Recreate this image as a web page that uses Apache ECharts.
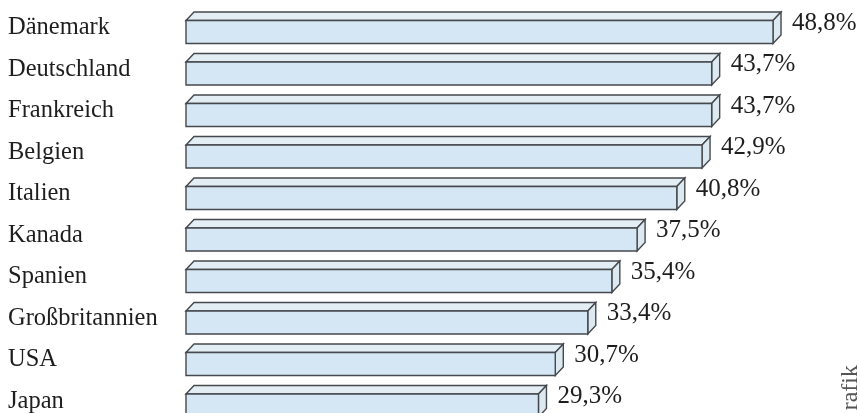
<!DOCTYPE html>
<html>
<head>
<meta charset="utf-8">
<script src="https://cdn.jsdelivr.net/npm/echarts@6/dist/echarts.min.js"></script>
<style>
html,body{margin:0;padding:0;background:#fff;}
#chart{width:860px;height:413px;}
</style>
</head>
<body>
<div id="chart"></div>
<script>
const countries = ['Dänemark','Deutschland','Frankreich','Belgien','Italien','Kanada','Spanien','Großbritannien','USA','Japan'];
const values = [48.8, 43.7, 43.7, 42.9, 40.8, 37.5, 35.4, 33.4, 30.7, 29.3];

const fmt = v => v.toFixed(1).replace('.', ',') + '%';
const FONT = '"Liberation Serif", "DejaVu Serif", serif';
const STROKE = '#45484c';

const chart = echarts.init(document.getElementById('chart'), null, {renderer: 'canvas'});

function renderItem(params, api) {
  const i = api.value(1);
  const v = api.value(0);
  const p0 = api.coord([0, i]);
  const p1 = api.coord([v, i]);
  const c = p0[1];
  const x0 = p0[0], x1 = p1[0];
  const dx = 8, dy = 8.5;
  const ft = c - 7.5, fb = c + 15.5;
  return {
    type: 'group',
    children: [
      {
        type: 'polygon',
        shape: {points: [[x0, ft], [x0 + dx, ft - dy], [x1 + dx, ft - dy], [x1, ft]]},
        style: {fill: '#e3edf4', stroke: STROKE, lineWidth: 1.4}
      },
      {
        type: 'polygon',
        shape: {points: [[x1, ft], [x1 + dx, ft - dy], [x1 + dx, fb - dy], [x1, fb]]},
        style: {fill: '#dde9f1', stroke: STROKE, lineWidth: 1.4}
      },
      {
        type: 'rect',
        shape: {x: x0, y: ft, width: x1 - x0, height: fb - ft},
        style: {fill: '#d5e7f4', stroke: STROKE, lineWidth: 1.4}
      },
      {
        type: 'text',
        x: x1 + dx + 11,
        y: c - 5,
        style: {
          text: fmt(v),
          fill: '#1e1e1e',
          font: '25px ' + FONT,
          textAlign: 'left',
          textVerticalAlign: 'middle',
          verticalAlign: 'middle'
        }
      }
    ]
  };
}

const option = {
  backgroundColor: '#ffffff',
  animation: false,
  grid: {left: 186, top: 7.25, bottom: -9.25, right: 12.4, outerBoundsMode: 'none', containLabel: false},
  xAxis: {
    type: 'value', min: 0, max: 55,
    show: false
  },
  yAxis: {
    type: 'category',
    data: countries,
    inverse: true,
    axisLine: {show: false},
    axisTick: {show: false},
    splitLine: {show: false},
    axisLabel: {
      align: 'left',
      margin: 178,
      color: '#1e1e1e',
      fontFamily: FONT,
      fontSize: 24.5,
      padding: [0, 0, 7, 0]
    }
  },
  series: [{
    type: 'custom',
    renderItem: renderItem,
    encode: {x: 0, y: 1},
    data: values.map((v, i) => [v, i]),
    clip: false
  }],
  graphic: [{
    type: 'text',
    x: 851,
    y: 365,
    rotation: Math.PI / 2,
    style: {
      text: 'rafik',
      fill: '#555555',
      font: '24px ' + FONT,
      textAlign: 'right',
      textVerticalAlign: 'middle',
      verticalAlign: 'middle'
    }
  }]
};
chart.setOption(option);
</script>
</body>
</html>
